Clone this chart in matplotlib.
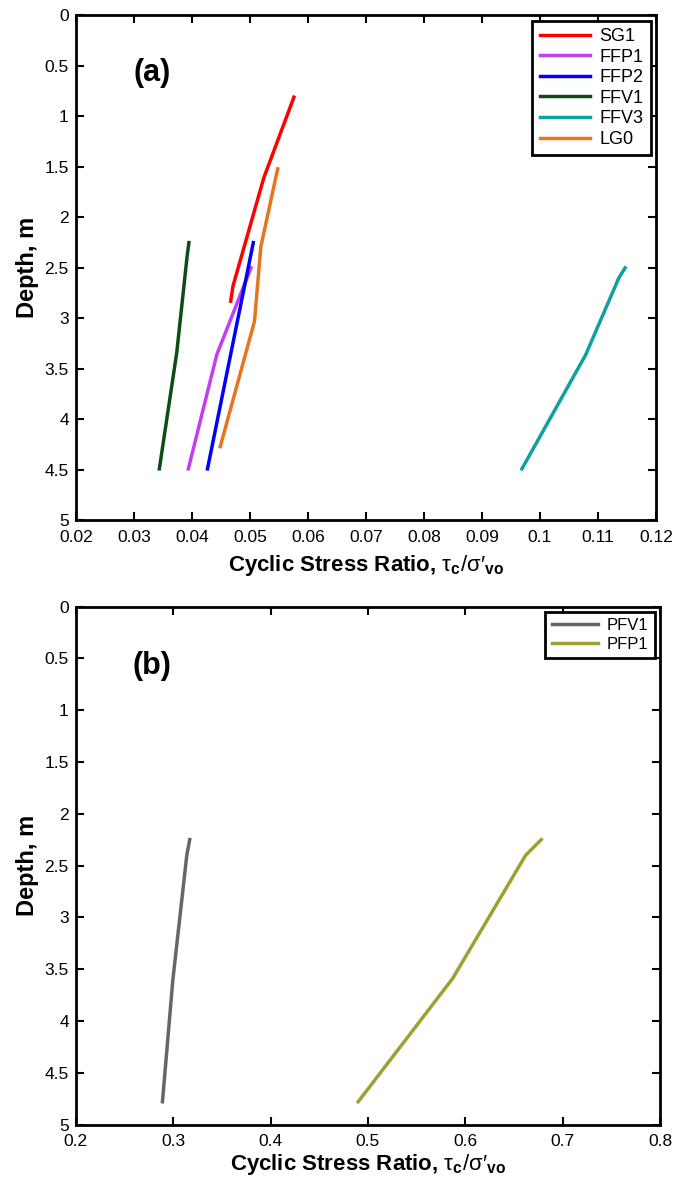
import matplotlib.pyplot as plt

plt.rcParams['font.family'] = ['Liberation Sans', 'DejaVu Sans']
plt.rcParams['mathtext.fontset'] = 'custom'
plt.rcParams['mathtext.rm'] = 'Liberation Sans'
plt.rcParams['mathtext.bf'] = 'Liberation Sans:bold'
plt.rcParams['mathtext.it'] = 'Liberation Sans:italic'

# panel (a)
sg1_x = [0.0576, 0.0524, 0.0471, 0.0467]
sg1_d = [0.81, 1.61, 2.68, 2.83]
ffp1_x = [0.0502, 0.0443, 0.0394]
ffp1_d = [2.50, 3.36, 4.49]
ffp2_x = [0.0506, 0.0427]
ffp2_d = [2.25, 4.49]
ffv1_x = [0.0395, 0.0392, 0.0374, 0.0344]
ffv1_d = [2.25, 2.38, 3.34, 4.49]
ffv3_x = [0.1147, 0.1136, 0.1079, 0.0969]
ffv3_d = [2.50, 2.60, 3.36, 4.49]
lg0_x = [0.0548, 0.0519, 0.0508, 0.0449]
lg0_d = [1.52, 2.29, 3.03, 4.27]

# panel (b)
pfv1_x = [0.317, 0.314, 0.2996, 0.289]
pfv1_d = [2.25, 2.40, 3.61, 4.78]
pfp1_x = [0.678, 0.662, 0.587, 0.490]
pfp1_d = [2.25, 2.40, 3.59, 4.78]

xlab = r"Cyclic Stress Ratio, $\mathrm{\tau}_{\mathbf{c}}/\mathrm{\sigma}\prime_{\mathbf{vo}}$"

fig = plt.figure(figsize=(6.89, 11.8), dpi=100)
ax1 = fig.add_axes([0.110, 0.559, 0.842, 0.428])
ax2 = fig.add_axes([0.110, 0.047, 0.848, 0.439])

ax1.plot(sg1_x, sg1_d, color='#ff0000', lw=2.5, label='SG1')
ax1.plot(ffp1_x, ffp1_d, color='#c040f0', lw=2.5, label='FFP1')
ax1.plot(ffp2_x, ffp2_d, color='#0000ff', lw=2.5, label='FFP2')
ax1.plot(ffv1_x, ffv1_d, color='#0b4d12', lw=2.5, label='FFV1')
ax1.plot(ffv3_x, ffv3_d, color='#10a0a0', lw=2.5, label='FFV3')
ax1.plot(lg0_x, lg0_d, color='#e8741e', lw=2.5, label='LG0')
ax1.set_xlim(0.02, 0.12)
ax1.set_xticks([0.02, 0.03, 0.04, 0.05, 0.06, 0.07, 0.08, 0.09, 0.1, 0.11, 0.12])
ax1.set_xticklabels(['0.02', '0.03', '0.04', '0.05', '0.06', '0.07', '0.08', '0.09', '0.1', '0.11', '0.12'])
ax1.text(0.0300, 0.57, '(a)', fontsize=22, fontweight='bold', va='center')

ax2.plot(pfv1_x, pfv1_d, color='#666666', lw=2.5, label='PFV1')
ax2.plot(pfp1_x, pfp1_d, color='#a0a032', lw=2.5, label='PFP1')
ax2.set_xlim(0.2, 0.8)
ax2.set_xticks([0.2, 0.3, 0.4, 0.5, 0.6, 0.7, 0.8])
ax2.set_xticklabels(['0.2', '0.3', '0.4', '0.5', '0.6', '0.7', '0.8'])
ax2.text(0.258, 0.57, '(b)', fontsize=22, fontweight='bold', va='center')

for ax, fs, lp in [(ax1, 13, 6), (ax2, 12, 2)]:
    ax.set_ylim(5, 0)
    ax.set_yticks([0, 0.5, 1, 1.5, 2, 2.5, 3, 3.5, 4, 4.5, 5])
    ax.set_yticklabels(['0', '0.5', '1', '1.5', '2', '2.5', '3', '3.5', '4', '4.5', '5'])
    ax.tick_params(direction='in', top=True, right=True, length=6, width=1.5, labelsize=12.5)
    ax.tick_params(axis='x', pad=7)
    ax.tick_params(axis='y', pad=5)
    for s in ax.spines.values():
        s.set_linewidth(2)
    ax.set_xlabel(xlab, fontsize=16, fontweight='bold', labelpad=lp)
    ax.set_ylabel('Depth, m', fontsize=17, fontweight='bold', labelpad=4)
    leg = ax.legend(loc='upper right', fontsize=fs, fancybox=False, framealpha=1,
                    handlelength=2.8, borderaxespad=0.3, labelspacing=0.2,
                    handletextpad=0.5, borderpad=0.4)
    leg.get_frame().set_edgecolor('black')
    leg.get_frame().set_linewidth(2)

fig.savefig('out.png', dpi=100)
